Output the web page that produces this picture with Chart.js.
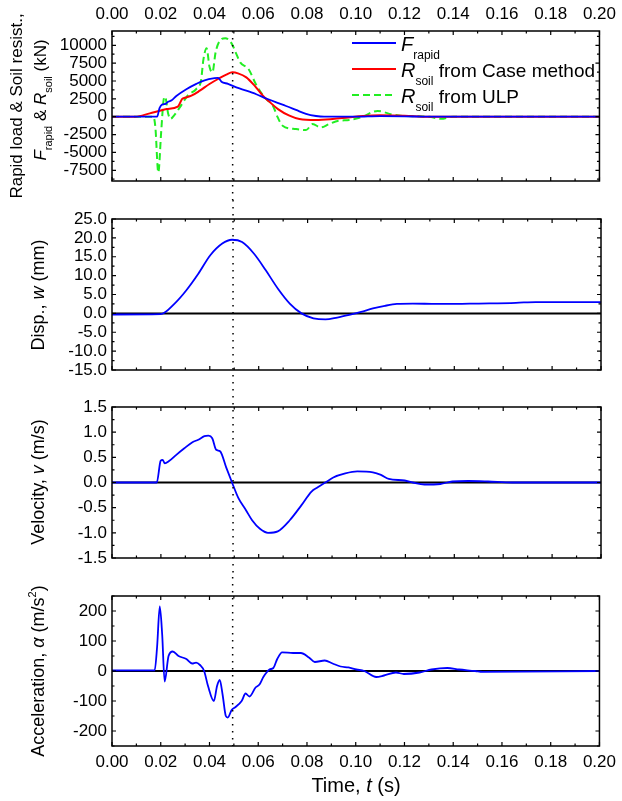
<!DOCTYPE html>
<html>
<head>
<meta charset="utf-8">
<script src="https://cdn.jsdelivr.net/npm/chart.js@4.4.1/dist/chart.umd.min.js"></script>
<style>
  body { margin: 0; background: #fff; }
  #wrap { position: relative; width: 622px; height: 801px; }
  canvas { position: absolute; left: 0; }
</style>
</head>
<body>
<div id="wrap">
  <canvas id="forceChart" style="top:0px;width:622px;height:200px" width="622" height="200"></canvas>
  <canvas id="dispChart" style="top:200px;width:622px;height:189px" width="622" height="189"></canvas>
  <canvas id="velChart" style="top:389px;width:622px;height:188px" width="622" height="188"></canvas>
  <canvas id="accChart" style="top:577px;width:622px;height:224px" width="622" height="224"></canvas>
</div>
<script>
// time axis
const xTicks = [0, 0.02, 0.04, 0.06, 0.08, 0.10, 0.12, 0.14, 0.16, 0.18, 0.20];
const markTime = 0.0495;

// rapid load F_rapid (kN)
const fRapidT = [0, 0.0185, 0.0195, 0.0205, 0.022, 0.023, 0.0245, 0.0264, 0.0305, 0.0346, 0.038, 0.0421, 0.0435, 0.0449, 0.0476, 0.051, 0.0551, 0.0592, 0.0633, 0.0674, 0.0714, 0.0755, 0.0796, 0.0837, 0.087, 0.10, 0.11, 0.12, 0.13, 0.20];
const fRapidV = [0, 0, 1200, 1700, 1800, 2100, 2300, 2900, 3850, 4600, 5100, 5400, 5450, 4900, 4600, 4100, 3650, 3150, 2550, 2000, 1500, 950, 400, 100, 0, 0, 80, 60, 0, 0];

// R_soil from Case method (kN)
const rCaseT = [0, 0.0095, 0.0155, 0.0196, 0.0224, 0.027, 0.0288, 0.0299, 0.0326, 0.036, 0.040, 0.0435, 0.0469, 0.0494, 0.0517, 0.0551, 0.0585, 0.0619, 0.0644, 0.0681, 0.0728, 0.0769, 0.0837, 0.0905, 0.097, 0.103, 0.11, 0.12, 0.13, 0.20];
const rCaseV = [0, 0, 470, 840, 1070, 1400, 2500, 2650, 2950, 3640, 4580, 5280, 5890, 6210, 6070, 5510, 4345, 2940, 2150, 1070, 140, -330, -470, -330, -100, 100, 200, 150, 0, 0];

// R_soil from ULP (kN)
const rUlpT = [0, 0.017, 0.0178, 0.019, 0.0202, 0.0212, 0.0218, 0.023, 0.024, 0.0255, 0.0278, 0.031, 0.0346, 0.0365, 0.0375, 0.0388, 0.040, 0.0412, 0.0425, 0.044, 0.0465, 0.049, 0.051, 0.0526, 0.056, 0.059, 0.0626, 0.066, 0.068, 0.070, 0.0755, 0.0796, 0.0823, 0.0857, 0.089, 0.093, 0.0973, 0.102, 0.109, 0.115, 0.12, 0.13, 0.135, 0.14, 0.15, 0.20];
const rUlpV = [0, 0, -1500, -7800, -2000, 2400, 2800, 500, -300, 200, 1300, 2940, 3880, 5000, 8000, 9600, 7000, 6200, 9000, 10500, 11000, 10300, 8800, 7600, 6680, 4580, 2710, 1540, -100, -1260, -1730, -1870, -1030, -1500, -1030, -560, -470, -100, 800, 300, 100, 0, -300, 0, 0, 0];

// displacement w (mm)
const dispT = [0, 0.0199, 0.0256, 0.0305, 0.0353, 0.0402, 0.0451, 0.0491, 0.0532, 0.0581, 0.0629, 0.0678, 0.0727, 0.0775, 0.0824, 0.0873, 0.0921, 0.097, 0.1019, 0.1067, 0.1116, 0.1165, 0.123, 0.1327, 0.1408, 0.149, 0.1652, 0.1733, 0.20];
const dispV = [-0.3, -0.2, 2.6, 6.2, 10.5, 15.4, 18.5, 19.5, 18.9, 15.8, 11.4, 6.6, 2.6, 0, -1.3, -1.6, -1.1, -0.4, 0.4, 1.3, 2.0, 2.5, 2.6, 2.5, 2.5, 2.6, 2.8, 3.0, 3.0];

// velocity v (m/s)
const velT = [0, 0.0183, 0.0199, 0.0207, 0.0216, 0.0232, 0.0263, 0.0296, 0.0329, 0.0353, 0.0378, 0.0394, 0.041, 0.0426, 0.0442, 0.0467, 0.0491, 0.0516, 0.0548, 0.0573, 0.0605, 0.0638, 0.0678, 0.0727, 0.0775, 0.0816, 0.084, 0.0873, 0.0905, 0.0954, 0.1003, 0.1067, 0.11, 0.1132, 0.1197, 0.123, 0.1278, 0.1343, 0.1392, 0.1457, 0.1538, 0.1636, 0.20];
const velV = [0, 0, 0.43, 0.45, 0.38, 0.42, 0.55, 0.68, 0.80, 0.85, 0.92, 0.93, 0.88, 0.65, 0.62, 0.30, 0.0, -0.30, -0.55, -0.75, -0.92, -1.0, -0.97, -0.75, -0.45, -0.18, -0.10, 0.0, 0.10, 0.18, 0.22, 0.20, 0.15, 0.07, 0.04, 0.0, -0.04, -0.03, 0.02, 0.03, 0.02, 0.0, 0.0];

// acceleration (m/s2)
const accT = [0, 0.0175, 0.0185, 0.0196, 0.0206, 0.0216, 0.0232, 0.0249, 0.0273, 0.0305, 0.0329, 0.0345, 0.0361, 0.0378, 0.0394, 0.0418, 0.0431, 0.0442, 0.0454, 0.0467, 0.0475, 0.0491, 0.0507, 0.0532, 0.0548, 0.0564, 0.0589, 0.0605, 0.0621, 0.0646, 0.0662, 0.0678, 0.0698, 0.0743, 0.0775, 0.0808, 0.0832, 0.0873, 0.0905, 0.0938, 0.097, 0.1003, 0.1035, 0.1084, 0.1116, 0.1165, 0.1197, 0.1262, 0.1311, 0.1376, 0.1424, 0.149, 0.152, 0.20];
const accV = [2, 2, 80, 215, 120, -35, 50, 65, 50, 40, 25, 28, 20, 0, -50, -100, -50, -30, -80, -150, -155, -130, -120, -100, -75, -85, -55, -45, -20, 5, 10, 40, 62, 60, 60, 45, 30, 35, 25, 15, 12, 5, 0, -20, -15, -5, -10, -5, 5, 10, 5, 0, -3, 0];

// y tick labels
const forceTicks = [-7500, -5000, -2500, 0, 2500, 5000, 7500, 10000];
const dispTicks = [-15, -10, -5, 0, 5, 10, 15, 20, 25];
const velTicks = [-1.5, -1.0, -0.5, 0, 0.5, 1.0, 1.5];
const accTicks = [-200, -100, 0, 100, 200];

const FONT = '"Liberation Sans", Arial, sans-serif';

function pts(ts, vs) {
    return ts.map((t, i) => ({ x: t, y: vs[i] }));
}

// parts: [text, kind, size?]  kind: n | i | sub | sup
function rich(ctx, x, y, parts, size, align) {
    const fontFor = p => {
        let s = p[2] || size;
        if (p[1] === 'sub' || p[1] === 'sup') s = Math.round(size * 0.62);
        return (p[1] === 'i' ? 'italic ' : '') + s + 'px ' + FONT;
    };
    let w = 0;
    parts.forEach(p => { ctx.font = fontFor(p); w += ctx.measureText(p[0]).width; });
    let cx = align === 'center' ? x - w / 2 : x;
    ctx.textAlign = 'left';
    ctx.textBaseline = 'alphabetic';
    ctx.fillStyle = '#000';
    parts.forEach(p => {
        ctx.font = fontFor(p);
        const dy = p[1] === 'sub' ? size * 0.38 : p[1] === 'sup' ? -size * 0.45 : 0;
        ctx.fillText(p[0], cx, y + dy);
        cx += ctx.measureText(p[0]).width;
    });
}

function vTitle(ctx, cx, cy, parts, size) {
    ctx.save();
    ctx.translate(cx, cy);
    ctx.rotate(-Math.PI / 2);
    rich(ctx, 0, size * 0.35, parts, size, 'center');
    ctx.restore();
}

function makePanel(id, o) {
    const datasets = o.datasets.slice();
    if (o.zeroLine) {
        datasets.push({
            data: [{ x: xTicks[0], y: 0 }, { x: xTicks[xTicks.length - 1], y: 0 }],
            borderColor: '#000', borderWidth: 2, pointRadius: 0,
        });
    }
    return new Chart(document.getElementById(id), {
        type: 'line',
        data: { datasets: datasets },
        options: {
            responsive: false,
            animation: false,
            layout: { padding: { top: o.padTop, bottom: o.padBottom, left: 0, right: 21 } },
            plugins: { legend: { display: false }, tooltip: { enabled: false } },
            elements: { point: { radius: 0 }, line: { borderWidth: 1.8, cubicInterpolationMode: 'monotone' } },
            scales: {
                x: {
                    type: 'linear',
                    position: o.xPos || 'bottom',
                    display: !!o.xLabels,
                    min: 0, max: 0.2,
                    grid: { display: false, drawTicks: false },
                    border: { display: false },
                    afterBuildTicks: s => { s.ticks = xTicks.map(v => ({ value: v })); },
                    afterFit: s => { s.height = o.xHeight || 0; },
                    ticks: {
                        color: '#000', padding: 6, maxRotation: 0, autoSkip: false,
                        font: { family: FONT, size: 17 },
                        callback: v => v.toFixed(2),
                    },
                },
                y: {
                    type: 'linear',
                    min: o.yMin, max: o.yMax,
                    grid: { display: false, drawTicks: false },
                    border: { display: false },
                    afterBuildTicks: s => { s.ticks = o.yTicks.map(v => ({ value: v })); },
                    afterFit: s => { s.width = 112; },
                    ticks: {
                        color: '#000', padding: 5, autoSkip: false,
                        font: { family: FONT, size: 17 },
                        callback: o.fmt,
                    },
                },
            },
        },
        plugins: [{
            id: 'frame',
            afterDatasetsDraw(chart) {
                const ctx = chart.ctx, a = chart.chartArea;
                const xs = chart.scales.x, ys = chart.scales.y;
                ctx.save();
                ctx.strokeStyle = '#000';
                ctx.lineWidth = 1.5;
                ctx.strokeRect(a.left, a.top, a.right - a.left, a.bottom - a.top);
                ctx.lineWidth = 1.2;
                ctx.beginPath();
                // x ticks (major every 0.02, minor every 0.01)
                for (let k = 0; k <= 20; k++) {
                    const px = xs.getPixelForValue(k * 0.01);
                    const len = k % 2 === 0 ? 4 : 2.5;
                    ctx.moveTo(px, a.bottom); ctx.lineTo(px, a.bottom - len);
                    ctx.moveTo(px, a.top); ctx.lineTo(px, a.top + len);
                }
                // y ticks
                const step = o.yTicks[1] - o.yTicks[0];
                const n0 = Math.ceil((o.yMin - o.yTicks[0]) / (step / 2) - 1e-6);
                const n1 = Math.floor((o.yMax - o.yTicks[0]) / (step / 2) + 1e-6);
                for (let k = n0; k <= n1; k++) {
                    const py = ys.getPixelForValue(o.yTicks[0] + k * step / 2);
                    const len = k % 2 === 0 ? 4 : 2.5;
                    ctx.moveTo(a.left, py); ctx.lineTo(a.left + len, py);
                    ctx.moveTo(a.right, py); ctx.lineTo(a.right - len, py);
                }
                ctx.stroke();
                // dotted marker line
                const mx = xs.getPixelForValue(markTime);
                ctx.setLineDash([1.5, 5.5]);
                ctx.lineWidth = 1.5;
                ctx.beginPath();
                ctx.moveTo(mx, o.dotFrom === 'area' ? a.top : 0);
                ctx.lineTo(mx, o.dotTo === 'area' ? a.bottom : chart.height);
                ctx.stroke();
                ctx.restore();
                if (o.extra) o.extra(ctx, chart);
            },
        }],
    });
}

makePanel('forceChart', {
    padTop: 0, padBottom: 19, xPos: 'top', xLabels: true, xHeight: 31,
    yMin: -9000, yMax: 12000, yTicks: forceTicks, fmt: v => String(v),
    dotFrom: 'area',
    datasets: [
        { data: pts(fRapidT, fRapidV), borderColor: '#0000ff' },
        { data: pts(rCaseT, rCaseV), borderColor: '#ff0000', borderWidth: 2 },
        { data: pts(rUlpT, rUlpV), borderColor: '#22ee22', borderWidth: 2, borderDash: [7, 4] },
    ],
    extra(ctx) {
        vTitle(ctx, 16, 106, [['Rapid load & Soil resist.,', 'n']], 17);
        vTitle(ctx, 40, 100, [['F', 'i'], ['rapid', 'sub'], [' & ', 'n'], ['R', 'i'], ['soil', 'sub'], [' (kN)', 'n']], 17);
        // legend
        const rows = [
            { c: '#0000ff', dash: [], parts: [['F', 'i'], ['rapid', 'sub']] },
            { c: '#ff0000', dash: [], parts: [['R', 'i'], ['soil', 'sub'], [' from Case method', 'n', 19]] },
            { c: '#22ee22', dash: [7, 4], parts: [['R', 'i'], ['soil', 'sub'], [' from ULP', 'n', 19]] },
        ];
        rows.forEach((r, i) => {
            const ly = 43 + i * 26;
            ctx.save();
            ctx.strokeStyle = r.c; ctx.lineWidth = 2; ctx.setLineDash(r.dash);
            ctx.beginPath(); ctx.moveTo(352, ly); ctx.lineTo(396, ly); ctx.stroke();
            ctx.restore();
            rich(ctx, 401, ly + 8, r.parts, 20, 'left');
        });
    },
});

makePanel('dispChart', {
    padTop: 19, padBottom: 19, zeroLine: true,
    yMin: -15, yMax: 25, yTicks: dispTicks, fmt: v => v.toFixed(1),
    datasets: [{ data: pts(dispT, dispV), borderColor: '#0000ff' }],
    extra(ctx) {
        vTitle(ctx, 38, 95, [['Disp., ', 'n'], ['w', 'i'], [' (mm)', 'n']], 18);
    },
});

makePanel('velChart', {
    padTop: 18, padBottom: 19, zeroLine: true,
    yMin: -1.5, yMax: 1.5, yTicks: velTicks, fmt: v => v.toFixed(1),
    datasets: [{ data: pts(velT, velV), borderColor: '#0000ff' }],
    extra(ctx) {
        vTitle(ctx, 38, 93, [['Velocity, ', 'n'], ['v', 'i'], [' (m/s)', 'n']], 18);
    },
});

makePanel('accChart', {
    padTop: 19, padBottom: 0, xLabels: true, xHeight: 55, zeroLine: true,
    yMin: -250, yMax: 250, yTicks: accTicks, fmt: v => String(v),
    dotTo: 'area',
    datasets: [{ data: pts(accT, accV), borderColor: '#0000ff' }],
    extra(ctx) {
        vTitle(ctx, 38, 94, [['Acceleration, ', 'n'], ['α', 'i'], [' (m/s', 'n'], ['2', 'sup'], [')', 'n']], 18);
        rich(ctx, 356, 215, [['Time, ', 'n'], ['t', 'i'], [' (s)', 'n']], 20, 'center');
    },
});
</script>
</body>
</html>
